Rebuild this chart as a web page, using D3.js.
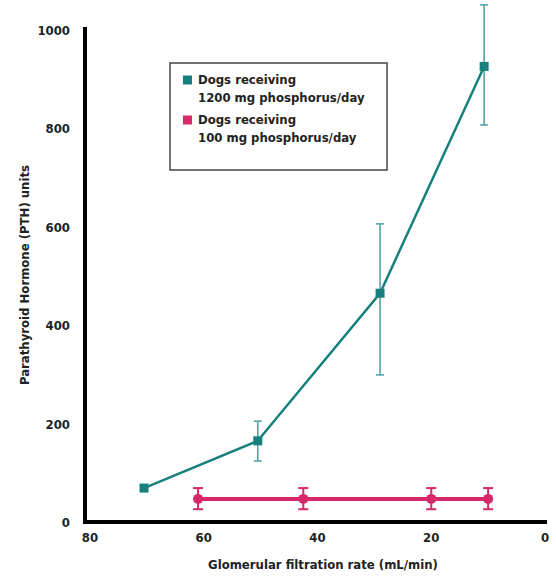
<!DOCTYPE html>
<html>
<head>
<meta charset="utf-8">
<script src="https://cdn.jsdelivr.net/npm/d3@7"></script>
<style>
  body { margin: 0; background: #fff; }
  svg text { font-family: "DejaVu Sans Condensed", "DejaVu Sans", sans-serif; font-stretch: condensed; }
</style>
</head>
<body>
<svg id="chart" width="556" height="576"></svg>
<script>
/* ---------------- data ---------------- */
const gfrHigh  = [70.5, 50.5, 29, 10.7];
const pthHigh  = [71, 167, 467, 928];
const errLoHigh = [71, 126, 301, 809];
const errHiHigh = [71, 207, 608, 1053];

const gfrLow   = [61, 42.5, 20, 10];
const pthLow   = [49, 49, 49, 49];
const errLoLow = [28, 28, 28, 28];
const errHiLow = [71, 71, 71, 71];

const xTicks = [80, 60, 40, 20, 0];
const yTicks = [0, 200, 400, 600, 800, 1000];
const legendLines = [
  ['Dogs receiving', '1200 mg phosphorus/day'],
  ['Dogs receiving', '100 mg phosphorus/day']
];

const TEAL = '#17807f';
const PINK = '#d6286a';

/* ---------------- scales ---------------- */
const svg = d3.select('#chart');
const x = d3.scaleLinear().domain([80, 0]).range([90, 545]);
const y = d3.scaleLinear().domain([0, 1000]).range([523, 31]);

/* ---------------- axes ---------------- */
svg.append('line')
  .attr('x1', 85).attr('x2', 85).attr('y1', 27).attr('y2', 524)
  .attr('stroke', '#000').attr('stroke-width', 4);
svg.append('line')
  .attr('x1', 83).attr('x2', 547).attr('y1', 522).attr('y2', 522)
  .attr('stroke', '#000').attr('stroke-width', 4);

svg.selectAll('.ytick').data(yTicks).enter().append('text')
  .attr('x', 70).attr('y', d => y(d) + 4)
  .attr('text-anchor', 'end')
  .attr('font-size', 13).attr('font-weight', 'bold').attr('fill', '#222')
  .text(d => d);

svg.selectAll('.xtick').data(xTicks).enter().append('text')
  .attr('x', d => x(d)).attr('y', 542)
  .attr('text-anchor', 'middle')
  .attr('font-size', 13).attr('font-weight', 'bold').attr('fill', '#222')
  .text(d => d);

svg.append('text')
  .attr('transform', 'translate(29,275) rotate(-90)')
  .attr('text-anchor', 'middle')
  .attr('font-size', 13).attr('font-weight', 'bold').attr('fill', '#222')
  .text('Parathyroid Hormone (PTH) units');

svg.append('text')
  .attr('x', 323).attr('y', 569)
  .attr('text-anchor', 'middle')
  .attr('font-size', 13).attr('font-weight', 'bold').attr('fill', '#222')
  .text('Glomerular filtration rate (mL/min)');

/* ---------------- series ---------------- */
const high = gfrHigh.map((g, i) => ({g, v: pthHigh[i], lo: errLoHigh[i], hi: errHiHigh[i]}));
const low  = gfrLow.map((g, i) => ({g, v: pthLow[i], lo: errLoLow[i], hi: errHiLow[i]}));

const line = d3.line().x(d => x(d.g)).y(d => y(d.v));

function errorBars(data, color, width, cap) {
  const g = svg.append('g').attr('stroke', color).attr('stroke-width', width);
  data.filter(d => d.hi !== d.lo).forEach(d => {
    g.append('line').attr('x1', x(d.g)).attr('x2', x(d.g)).attr('y1', y(d.lo)).attr('y2', y(d.hi));
    g.append('line').attr('x1', x(d.g) - cap).attr('x2', x(d.g) + cap).attr('y1', y(d.lo)).attr('y2', y(d.lo));
    g.append('line').attr('x1', x(d.g) - cap).attr('x2', x(d.g) + cap).attr('y1', y(d.hi)).attr('y2', y(d.hi));
  });
}

errorBars(high, '#4a9fa0', 1.5, 4);
svg.append('path').datum(high).attr('d', line)
  .attr('fill', 'none').attr('stroke', TEAL).attr('stroke-width', 2.5);
svg.selectAll('.mh').data(high).enter().append('rect')
  .attr('x', d => x(d.g) - 4.5).attr('y', d => y(d.v) - 4.5)
  .attr('width', 9).attr('height', 9).attr('fill', TEAL);

errorBars(low, PINK, 2, 5);
svg.append('path').datum(low).attr('d', line)
  .attr('fill', 'none').attr('stroke', PINK).attr('stroke-width', 4);
svg.selectAll('.ml').data(low).enter().append('circle')
  .attr('cx', d => x(d.g)).attr('cy', d => y(d.v))
  .attr('r', 5).attr('fill', PINK);

/* ---------------- legend ---------------- */
const leg = svg.append('g');
leg.append('rect')
  .attr('x', 170).attr('y', 63).attr('width', 217).attr('height', 107)
  .attr('fill', '#fff').attr('stroke', '#444').attr('stroke-width', 1.5);
[TEAL, PINK].forEach((c, i) => {
  const cy = 80 + i * 40;
  leg.append('rect').attr('x', 183).attr('y', cy - 4.5).attr('width', 9).attr('height', 9).attr('fill', c);
  legendLines[i].forEach((t, j) => {
    leg.append('text').attr('x', 198).attr('y', cy + 4 + j * 18)
      .attr('font-size', 13).attr('font-weight', 'bold').attr('fill', '#222')
      .text(t);
  });
});
</script>
</body>
</html>
